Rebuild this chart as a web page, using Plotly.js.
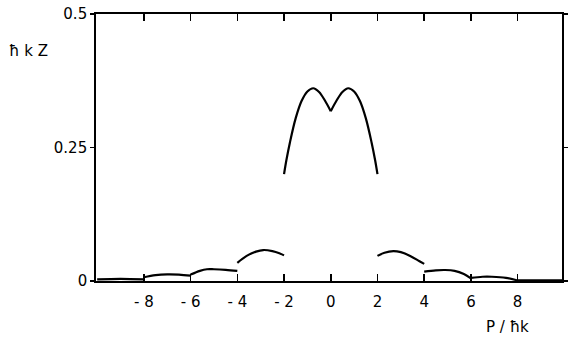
<!DOCTYPE html>
<html>
<head>
<meta charset="utf-8">
<script src="https://cdn.plot.ly/plotly-3.0.1.min.js"></script>
<style>html,body{margin:0;padding:0;background:#fff;}#chart{width:569px;height:351px;}</style>
</head>
<body>
<div id="chart"></div>
<script>
// Central band (M shape), split at the cusp x = 0
const centralLeftX = [-2, -1.9, -1.75, -1.5, -1.25, -1.0, -0.75, -0.5, -0.25, 0];
const centralLeftY = [0.2, 0.226, 0.259, 0.305, 0.337, 0.355, 0.361, 0.354, 0.338, 0.318];
const centralRightX = [0, 0.25, 0.5, 0.75, 1.0, 1.25, 1.5, 1.75, 1.9, 2];
const centralRightY = [0.318, 0.338, 0.354, 0.361, 0.355, 0.337, 0.305, 0.259, 0.226, 0.2];

// Side bands
const bandM2X = [-4, -3.6, -3.2, -2.89, -2.5, -2.2, -2];
const bandM2Y = [0.034, 0.047, 0.055, 0.058, 0.056, 0.052, 0.048];
const bandP2X = [2, 2.3, 2.68, 3.0, 3.4, 3.8, 4];
const bandP2Y = [0.047, 0.053, 0.056, 0.054, 0.047, 0.037, 0.032];

const bandM3X = [-6, -5.6, -5.3, -5, -4.5, -4];
const bandM3Y = [0.012, 0.019, 0.022, 0.022, 0.021, 0.019];
const bandP3X = [4, 4.5, 4.9, 5.3, 5.7, 6];
const bandP3Y = [0.0175, 0.020, 0.0206, 0.019, 0.013, 0.005];

const bandM4X = [-8, -7.5, -7, -6.5, -6];
const bandM4Y = [0.007, 0.011, 0.0125, 0.012, 0.010];
const bandP4X = [6, 6.5, 6.9, 7.5, 8];
const bandP4Y = [0.006, 0.008, 0.008, 0.006, 0.001];

const bandM5X = [-10, -9, -8];
const bandM5Y = [0.003, 0.004, 0.003];
const bandP5X = [8, 9, 10];
const bandP5Y = [0.001, 0.0012, 0.001];

// Tick labels
const xTickVals = [-8, -6, -4, -2, 0, 2, 4, 6, 8];
const xTickText = ["- 8", "- 6", "- 4", "- 2", "0", "2", "4", "6", "8"];
const yTickVals = [0, 0.25, 0.5];
const yTickText = ["0", "0.25", "0.5"];

const segs = [
  [centralLeftX, centralLeftY], [centralRightX, centralRightY],
  [bandM2X, bandM2Y], [bandP2X, bandP2Y],
  [bandM3X, bandM3Y], [bandP3X, bandP3Y],
  [bandM4X, bandM4Y], [bandP4X, bandP4Y],
  [bandM5X, bandM5Y], [bandP5X, bandP5Y]
];
const traces = segs.map(s => ({
  x: s[0], y: s[1], type: 'scatter', mode: 'lines',
  line: {color: '#000', width: 2.2, shape: 'spline', smoothing: 1},
  hoverinfo: 'skip', showlegend: false
}));

const font = {family: 'DejaVu Sans, sans-serif', size: 15, color: '#000'};
const layout = {
  width: 569, height: 351,
  margin: {l: 96, r: 7, t: 14, b: 70},
  paper_bgcolor: '#fff', plot_bgcolor: '#fff',
  font: font,
  showlegend: false,
  xaxis: {
    range: [-10.05, 9.9], tickmode: 'array', tickvals: xTickVals, ticktext: xTickText,
    ticks: 'inside', ticklen: 7, tickwidth: 1.5, tickcolor: '#000',
    showline: true, linecolor: '#000', linewidth: 1.8, mirror: 'ticks',
    showgrid: false, zeroline: false, tickfont: font, ticklabelstandoff: 6
  },
  yaxis: {
    range: [0, 0.5], tickmode: 'array', tickvals: yTickVals, ticktext: yTickText,
    ticks: 'outside', ticklen: 4, tickwidth: 1.5, tickcolor: '#000',
    showline: true, linecolor: '#000', linewidth: 1.8, mirror: 'ticks',
    showgrid: false, zeroline: false, tickfont: font, ticklabelstandoff: 0
  },
  annotations: [
    {text: 'ħ k Z', xref: 'paper', yref: 'paper', x: -0.145, y: 0.86,
     xanchor: 'center', yanchor: 'middle', showarrow: false, font: font},
    {text: 'P / ħk', xref: 'paper', yref: 'paper', x: 0.882, y: -0.172,
     xanchor: 'center', yanchor: 'middle', showarrow: false, font: font}
  ]
};
Plotly.newPlot('chart', traces, layout, {staticPlot: true, displayModeBar: false});
</script>
</body>
</html>
